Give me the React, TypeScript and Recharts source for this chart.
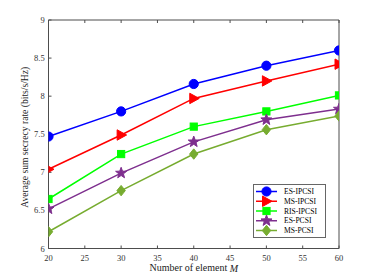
import React from 'react';
import { LineChart, Line, XAxis, YAxis, Legend, Label } from 'recharts';

const elements = [20, 30, 40, 50, 60];
const esIpcsi = [7.47, 7.8, 8.16, 8.4, 8.6];
const msIpcsi = [7.04, 7.49, 7.97, 8.2, 8.42];
const risIpcsi = [6.65, 7.24, 7.6, 7.8, 8.01];
const esPcsi = [6.52, 6.99, 7.4, 7.69, 7.83];
const msPcsi = [6.22, 6.76, 7.24, 7.56, 7.74];
const xTicks = [20, 25, 30, 35, 40, 45, 50, 55, 60];
const yTicks = [6, 6.5, 7, 7.5, 8, 8.5, 9];
const yTickLabels = ['6', '6.5', '7', '7.5', '8', '8.5', '9'];

const data = elements.map((m, i) => ({
  m,
  esIpcsi: esIpcsi[i],
  msIpcsi: msIpcsi[i],
  risIpcsi: risIpcsi[i],
  esPcsi: esPcsi[i],
  msPcsi: msPcsi[i],
}));

const FONT = '"Liberation Serif", "Times New Roman", serif';
const AXIS = '#4d4d4d';

type MarkerKind = 'circle' | 'triangle' | 'square' | 'star' | 'diamond';

function marker(kind: MarkerKind, cx: number, cy: number, color: string, key?: string) {
  switch (kind) {
    case 'circle':
      return <circle key={key} cx={cx} cy={cy} r={4.6} fill={color} stroke={color} />;
    case 'triangle':
      return (
        <polygon
          key={key}
          points={`${cx + 5.5},${cy} ${cx - 4},${cy - 5.2} ${cx - 4},${cy + 5.2}`}
          fill={color}
          stroke={color}
        />
      );
    case 'square':
      return <rect key={key} x={cx - 3.6} y={cy - 3.6} width={7.2} height={7.2} fill={color} stroke={color} />;
    case 'diamond':
      return (
        <polygon
          key={key}
          points={`${cx},${cy - 5.2} ${cx + 4.2},${cy} ${cx},${cy + 5.2} ${cx - 4.2},${cy}`}
          fill={color}
          stroke={color}
        />
      );
    case 'star': {
      const pts: string[] = [];
      for (let k = 0; k < 10; k++) {
        const r = k % 2 === 0 ? 5.8 : 2.4;
        const a = -Math.PI / 2 + (k * Math.PI) / 5;
        pts.push(`${cx + r * Math.cos(a)},${cy + r * Math.sin(a)}`);
      }
      return <polygon key={key} points={pts.join(' ')} fill={color} stroke={color} />;
    }
  }
}

const series: { key: string; name: string; color: string; kind: MarkerKind }[] = [
  { key: 'esIpcsi', name: 'ES-IPCSI', color: '#0000ff', kind: 'circle' },
  { key: 'msIpcsi', name: 'MS-IPCSI', color: '#ff0000', kind: 'triangle' },
  { key: 'risIpcsi', name: 'RIS-IPCSI', color: '#00ff00', kind: 'square' },
  { key: 'esPcsi', name: 'ES-PCSI', color: '#7e2f8e', kind: 'star' },
  { key: 'msPcsi', name: 'MS-PCSI', color: '#77ac30', kind: 'diamond' },
];

const LegendBox = () => (
  <svg width={73} height={54} style={{ display: 'block' }}>
    <rect x={0.5} y={0.5} width={72} height={53} fill="#fff" stroke="#666" strokeWidth={1} />
    {series.map((s, i) => {
      const y = 7.5 + i * 9.75;
      return (
        <g key={s.key}>
          <line x1={3} x2={24} y1={y} y2={y} stroke={s.color} strokeWidth={1.5} />
          {marker(s.kind, 13.5, y, s.color)}
          <text x={31} y={y} dy="0.35em" fontSize={7.6} fontFamily={FONT} fill="#000">
            {s.name}
          </text>
        </g>
      );
    })}
  </svg>
);

const blankTick = () => <g />;

export default function App() {
  return (
    <div style={{ position: 'absolute', left: 0, top: 0, width: 374, height: 280, background: '#fff' }}>
      <LineChart width={374} height={280} data={data} margin={{ top: 0, right: 0, bottom: 0, left: 0 }}>
        <XAxis
          dataKey="m"
          type="number"
          domain={[20, 60]}
          ticks={xTicks}
          height={31.5}
          tickSize={-3}
          tickMargin={9}
          stroke={AXIS}
          tick={{ fontSize: 8.5, fontFamily: FONT, fill: '#333' }}
          allowDataOverflow
        >
          <Label
            content={({ viewBox }: any) => (
              <text
                x={viewBox.x + viewBox.width / 2}
                y={viewBox.y + 19}
                textAnchor="middle"
                dominantBaseline="central"
                fontSize={10}
                fontFamily={FONT}
                fill="#222"
              >
                Number of element <tspan fontStyle="italic">M</tspan>
              </text>
            )}
          />
        </XAxis>
        <XAxis
          xAxisId="top"
          orientation="top"
          dataKey="m"
          type="number"
          domain={[20, 60]}
          ticks={xTicks}
          height={20}
          tickSize={-3}
          stroke={AXIS}
          tick={blankTick}
        />
        <YAxis
          type="number"
          domain={[6, 9]}
          ticks={yTicks}
          width={48.5}
          tickSize={-3}
          tickMargin={6.8}
          stroke={AXIS}
          tickFormatter={(v: number) => yTickLabels[yTicks.indexOf(v)] ?? String(v)}
          tick={{ fontSize: 8.5, fontFamily: FONT, fill: '#333' }}
        >
          <Label
            content={({ viewBox }: any) => {
              const cx = 24;
              const cy = viewBox.y + viewBox.height / 2 + 3;
              return (
                <text
                  x={cx}
                  y={cy}
                  transform={`rotate(-90 ${cx} ${cy})`}
                  textAnchor="middle"
                  dominantBaseline="central"
                  fontSize={9.6}
                  fontFamily={FONT}
                  fill="#222"
                >
                  Average sum secrecy rate (bits/s/Hz)
                </text>
              );
            }}
          />
        </YAxis>
        <YAxis
          yAxisId="right"
          orientation="right"
          type="number"
          domain={[6, 9]}
          ticks={yTicks}
          width={35}
          tickSize={-3}
          stroke={AXIS}
          tick={blankTick}
        />
        {series.map((s) => (
          <Line
            key={s.key}
            dataKey={s.key}
            name={s.name}
            stroke={s.color}
            strokeWidth={1.5}
            isAnimationActive={false}
            dot={(p: any) => marker(s.kind, p.cx, p.cy, s.color, `${s.key}-${p.index}`)}
            activeDot={false}
          />
        ))}
        <Legend
          layout="vertical"
          align="center"
          verticalAlign="middle"
          content={() => <LegendBox />}
          wrapperStyle={{ position: 'absolute', left: 253, top: 184, width: 73, height: 54 }}
        />
      </LineChart>
    </div>
  );
}
